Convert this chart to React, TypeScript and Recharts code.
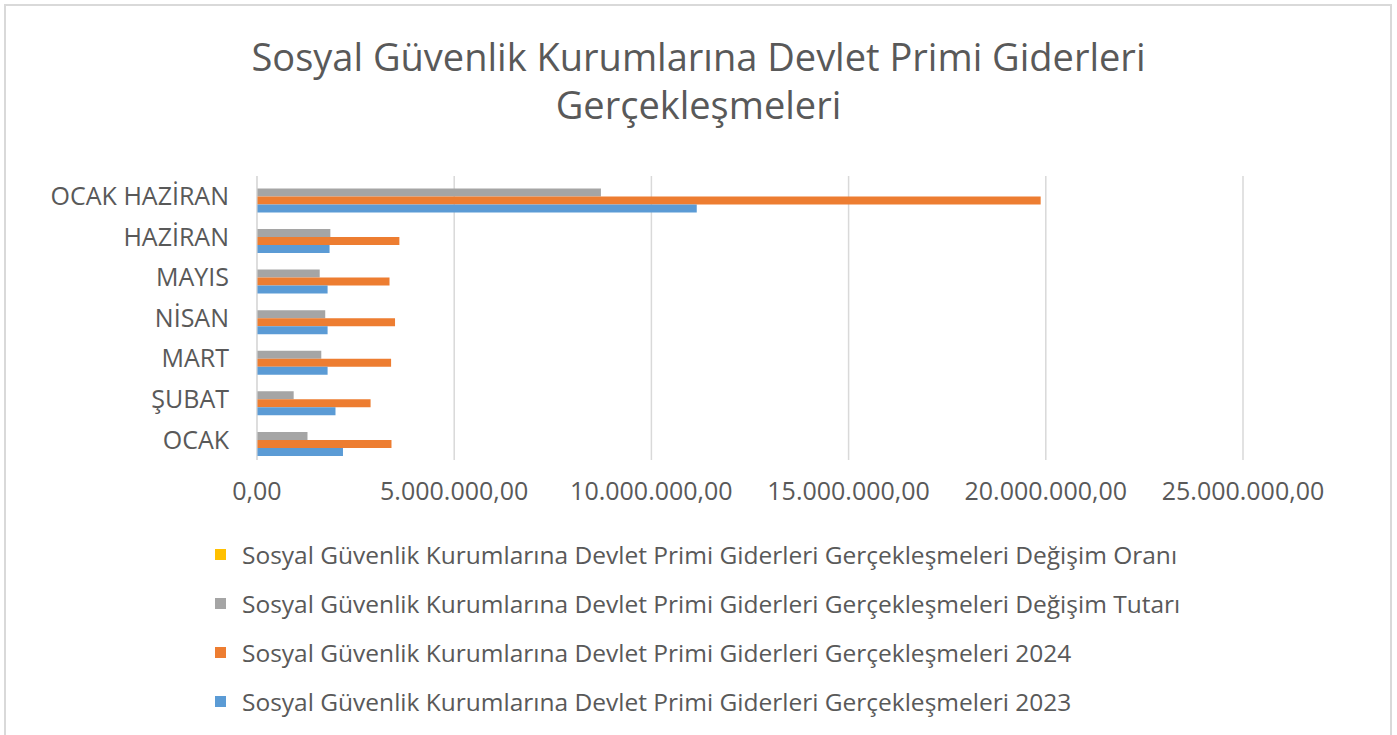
import { BarChart, Bar, XAxis, YAxis, CartesianGrid, Legend } from "recharts"

const categories = ["OCAK", "ŞUBAT", "MART", "NİSAN", "MAYIS", "HAZİRAN", "OCAK HAZİRAN"]
const values2023 = [2180000, 1990000, 1790000, 1790000, 1790000, 1840000, 11150000]
const values2024 = [3410000, 2880000, 3400000, 3500000, 3360000, 3610000, 19870000]
const changeAmount = [1280000, 930000, 1630000, 1730000, 1590000, 1860000, 8720000]
const changeRate = [56, 45, 90, 96, 88, 96, 78]
const xTicks = [0, 5000000, 10000000, 15000000, 20000000, 25000000]

const base = "Sosyal Güvenlik Kurumlarına Devlet Primi Giderleri Gerçekleşmeleri"
const seriesNames = {
  oran: `${base} Değişim Oranı`,
  tutar: `${base} Değişim Tutarı`,
  y2024: `${base} 2024`,
  y2023: `${base} 2023`,
}
const legendOrder = ["oran", "tutar", "y2024", "y2023"]

const data = categories.map((name, i) => ({
  name,
  oran: changeRate[i],
  tutar: changeAmount[i],
  y2024: values2024[i],
  y2023: values2023[i],
}))

const font = "'Open Sans', sans-serif"
const textColor = "#595959"

// 5000000 -> "5.000.000,00"
const formatTr = (v: number) => {
  const int = Math.round(v).toString().replace(/\B(?=(\d{3})+(?!\d))/g, ".")
  return `${int},00`
}

function LegendList({ payload }: any) {
  const items = [...(payload || [])].sort(
    (a: any, b: any) => legendOrder.indexOf(a.dataKey) - legendOrder.indexOf(b.dataKey)
  )
  return (
    <ul style={{ listStyle: "none", margin: 0, padding: 0 }}>
      {items.map((entry: any) => (
        <li
          key={entry.value}
          style={{ display: "flex", alignItems: "center", height: 49, fontSize: 24.5, color: textColor, fontFamily: font, whiteSpace: "nowrap" }}
        >
          <span style={{ display: "inline-block", width: 11, height: 11, background: entry.color, marginRight: 16 }} />
          {entry.value}
        </li>
      ))}
    </ul>
  )
}

export default function App() {
  return (
    <div style={{ position: "absolute", left: 0, top: 0, width: 1397, height: 735, background: "#fff", overflow: "hidden" }}>
      {/* chart frame */}
      <div
        style={{
          position: "absolute",
          left: 4,
          top: 4,
          width: 1388,
          height: 760,
          border: "2px solid #d9d9d9",
          boxSizing: "border-box",
        }}
      />
      <div
        style={{
          position: "absolute",
          left: 0,
          top: 32,
          width: 1397,
          textAlign: "center",
          fontFamily: font,
          fontSize: 38,
          lineHeight: "48px",
          color: textColor,
        }}
      >
        Sosyal Güvenlik Kurumlarına Devlet Primi Giderleri
        <br />
        Gerçekleşmeleri
      </div>
      <BarChart
        width={1397}
        height={735}
        data={data}
        layout="vertical"
        margin={{ top: 176, right: 154, bottom: 215, left: 0 }}
        barCategoryGap="11%"
        barGap={0}
      >
        <CartesianGrid horizontal={false} stroke="#d9d9d9" strokeWidth={1.5} />
        <XAxis
          type="number"
          domain={[0, 25000000]}
          ticks={xTicks}
          tickFormatter={formatTr}
          axisLine={false}
          tickLine={false}
          tickMargin={16}
          height={60}
          tick={{ fill: textColor, fontSize: 25, fontFamily: font }}
        />
        <YAxis
          type="category"
          dataKey="name"
          reversed
          width={257}
          axisLine={{ stroke: "#d9d9d9" }}
          tickLine={false}
          tickMargin={22}
          interval={0}
          tick={{ fill: textColor, fontSize: 25, fontFamily: font }}
        />
        <Legend
          layout="vertical"
          verticalAlign="middle"
          align="center"
          content={<LegendList />}
          wrapperStyle={{ left: 215, top: 530, bottom: "auto", width: 1170 }}
        />
        <Bar dataKey="oran" name={seriesNames.oran} fill="#FFC000" isAnimationActive={false} />
        <Bar dataKey="tutar" name={seriesNames.tutar} fill="#A5A5A5" isAnimationActive={false} />
        <Bar dataKey="y2024" name={seriesNames.y2024} fill="#ED7D31" isAnimationActive={false} />
        <Bar dataKey="y2023" name={seriesNames.y2023} fill="#5B9BD5" isAnimationActive={false} />
      </BarChart>
    </div>
  )
}
